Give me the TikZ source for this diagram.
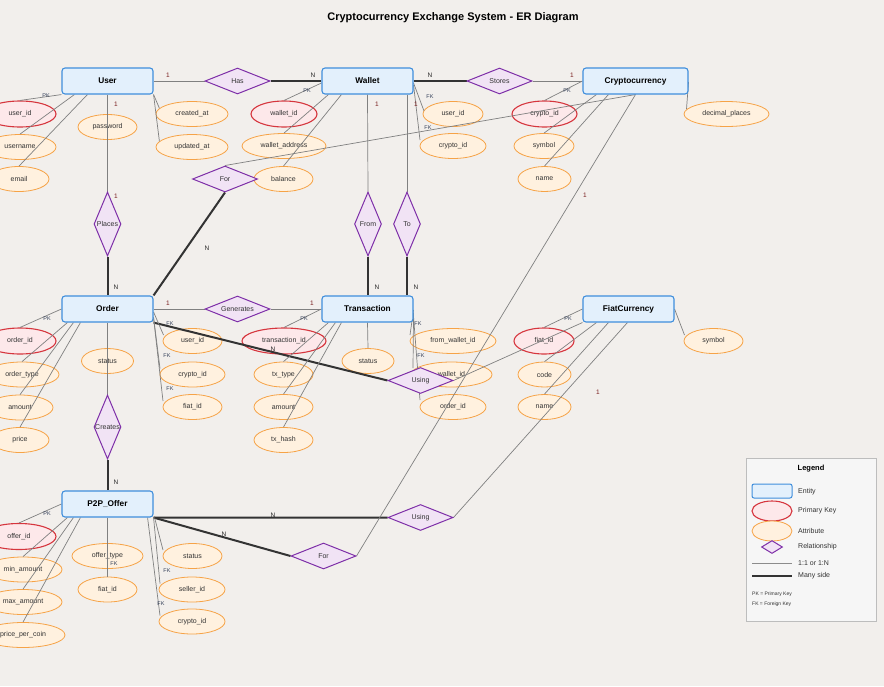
\documentclass[tikz,border=0pt]{standalone}
\usepackage{fontspec}
\setmainfont{Liberation Sans}
\usetikzlibrary{shapes.geometric,calc}
\pgfdeclarelayer{back}\pgfdeclarelayer{ell}\pgfdeclarelayer{lines}
\pgfsetlayers{back,ell,lines,main}
\definecolor{bgc}{HTML}{F2EFEC}
\definecolor{entF}{HTML}{E3F0FC}
\definecolor{entB}{HTML}{3F8EDC}
\definecolor{pkF}{HTML}{FDE8EA}
\definecolor{pkB}{HTML}{D6363E}
\definecolor{attF}{HTML}{FFF1DF}
\definecolor{attB}{HTML}{F6A347}
\definecolor{relF}{HTML}{F1E3F5}
\definecolor{relB}{HTML}{7E2FA8}
\definecolor{lnc}{HTML}{808080}
\definecolor{thk}{HTML}{333333}
\definecolor{txt}{HTML}{333333}
\definecolor{onec}{HTML}{7A1F1F}
\definecolor{keyc}{HTML}{34405A}
\definecolor{legF}{HTML}{F6F6F6}
\definecolor{legB}{HTML}{BDBDBD}
\begin{document}
\begin{tikzpicture}[x=1pt,y=-1pt,
  ent/.style={rectangle, rounded corners=3pt, draw=entB, fill=entF, line width=1.1pt, minimum width=91pt, minimum height=26pt, inner sep=0pt, font=\bfseries\fontsize{8.3}{10}\selectfont},
  attr/.style={ellipse, draw=attB, fill=attF, line width=0.8pt, minimum height=25pt, inner sep=0pt, text=txt, font=\fontsize{7}{8}\selectfont},
  pk/.style={attr, draw=pkB, fill=pkF, line width=1.1pt, minimum height=26pt},
  rel/.style={diamond, draw=relB, fill=relF, line width=1pt, inner sep=0pt, minimum width=65pt, minimum height=26pt},
  vrel/.style={rel, minimum width=27pt, minimum height=64pt},
  thinl/.style={draw=lnc, line width=0.7pt},
  thickl/.style={draw=thk, line width=2pt},
  one/.style={font=\fontsize{6.5}{7}\selectfont, text=onec, inner sep=0pt},
  many/.style={font=\fontsize{6.5}{7}\selectfont, text=black!85, inner sep=0pt},
  keyl/.style={font=\fontsize{5.5}{6}\selectfont, text=keyc, inner sep=0pt},
  every label/.style={font=\fontsize{7}{8}\selectfont, text=txt, inner sep=0pt},
  legt/.style={font=\fontsize{7}{8}\selectfont, text=txt, inner sep=0pt, anchor=west},
]
\begin{pgfonlayer}{back}
\fill[bgc] (0,0) rectangle (884,686);
\end{pgfonlayer}
\useasboundingbox (0,0) rectangle (884,686);

\node[font=\bfseries\fontsize{11}{13}\selectfont, inner sep=0pt] (title) at (453,18) {Cryptocurrency Exchange System - ER Diagram};

% entities
\node[ent] (User) at (107.5,81) {User};
\node[ent] (Wallet) at (367.5,81) {Wallet};
\node[ent, minimum width=105pt] (Crypto) at (635.5,81) {Cryptocurrency};
\node[ent] (Order) at (107.5,309) {Order};
\node[ent] (Trans) at (367.5,309) {Transaction};
\node[ent] (Fiat) at (628.5,309) {FiatCurrency};
\node[ent] (P2P) at (107.5,504) {P2P\_Offer};

% relationships
\node[rel, label=center:Has] (has) at (237.5,81) {};
\node[rel, label=center:Stores] (stores) at (499.5,81) {};
\node[rel, label=center:For] (forT) at (225,179) {};
\node[vrel, label=center:Places] (places) at (107.5,224) {};
\node[vrel, label=center:From] (from) at (368,224) {};
\node[vrel, label=center:To] (to) at (407,224) {};
\node[rel, label=center:Generates] (gen) at (237.5,309) {};
\node[rel, label=center:Using] (usingM) at (420.5,380.5) {};
\node[vrel, label=center:Creates] (creates) at (107.5,427) {};
\node[rel, label=center:Using] (usingB) at (420.5,517.5) {};
\node[rel, label=center:For] (forB) at (323.5,556) {};

\begin{pgfonlayer}{ell}
% User
\node[pk, minimum width=72pt] (u_id) at (20,114) {user\_id};
\node[attr, minimum width=72pt] (u_name) at (20,147) {username};
\node[attr, minimum width=60pt] (u_email) at (19,179) {email};
\node[attr, minimum width=59pt] (u_pw) at (107.5,127) {password};
\node[attr, minimum width=72pt] (u_cr) at (192,114) {created\_at};
\node[attr, minimum width=72pt] (u_up) at (192,147) {updated\_at};
% Wallet
\node[pk, minimum width=66pt] (w_id) at (284,114) {wallet\_id};
\node[attr, minimum width=84pt] (w_addr) at (284,146) {wallet\_address};
\node[attr, minimum width=59pt] (w_bal) at (283.5,179) {balance};
\node[attr, minimum width=60pt] (w_uid) at (453,114) {user\_id};
\node[attr, minimum width=66pt] (w_cid) at (453,146) {crypto\_id};
% Crypto
\node[pk, minimum width=65pt] (c_id) at (544.5,114) {crypto\_id};
\node[attr, minimum width=60pt] (c_sym) at (544,146) {symbol};
\node[attr, minimum width=53pt] (c_name) at (544.5,179) {name};
\node[attr, minimum width=85pt] (c_dec) at (726.5,114) {decimal\_places};
% Order
\node[pk, minimum width=72pt] (o_id) at (20,341) {order\_id};
\node[attr, minimum width=74pt] (o_type) at (22,374.5) {order\_type};
\node[attr, minimum width=66pt] (o_amt) at (20,407.5) {amount};
\node[attr, minimum width=58pt] (o_price) at (20,440) {price};
\node[attr, minimum width=52pt] (o_status) at (107.5,361) {status};
\node[attr, minimum width=59pt] (o_uid) at (192.5,341) {user\_id};
\node[attr, minimum width=65pt] (o_cid) at (192.5,374.5) {crypto\_id};
\node[attr, minimum width=59pt] (o_fid) at (192.5,407) {fiat\_id};
% Transaction
\node[pk, minimum width=84pt] (t_id) at (284,341) {transaction\_id};
\node[attr, minimum width=59pt] (t_type) at (283.5,374.5) {tx\_type};
\node[attr, minimum width=59pt] (t_amt) at (283.5,407) {amount};
\node[attr, minimum width=59pt] (t_hash) at (283.5,440) {tx\_hash};
\node[attr, minimum width=52pt] (t_status) at (368,361) {status};
\node[attr, minimum width=86pt] (t_from) at (453,341) {from\_wallet\_id};
\node[attr, minimum width=81pt] (t_wid) at (451.5,374.5) {wallet\_id};
\node[attr, minimum width=66pt] (t_oid) at (453,407) {order\_id};
% Fiat
\node[pk, minimum width=60pt] (f_id) at (544,341) {fiat\_id};
\node[attr, minimum width=53pt] (f_code) at (544.5,374.5) {code};
\node[attr, minimum width=53pt] (f_name) at (544.5,407) {name};
\node[attr, minimum width=59pt] (f_sym) at (713.5,341) {symbol};
% P2P
\node[pk, minimum width=74pt] (p_id) at (19,536.5) {offer\_id};
\node[attr, minimum width=78pt] (p_min) at (23,569.5) {min\_amount};
\node[attr, minimum width=78pt] (p_max) at (23,602) {max\_amount};
\node[attr, minimum width=84pt] (p_price) at (23,635) {price\_per\_coin};
\node[attr, minimum width=71pt] (p_type) at (107.5,556) {offer\_type};
\node[attr, minimum width=59pt] (p_fid) at (107.5,589.5) {fiat\_id};
\node[attr, minimum width=59pt] (p_status) at (192.5,556) {status};
\node[attr, minimum width=66pt] (p_seller) at (192,589.5) {seller\_id};
\node[attr, minimum width=66pt] (p_cid) at (192,621.5) {crypto\_id};
\end{pgfonlayer}

\begin{pgfonlayer}{lines}
% relationship connectors
\draw[thinl] (User.east) -- (has.west);
\draw[thickl] (has.east) -- (Wallet.west);
\draw[thickl] (Wallet.east) -- (stores.west);
\draw[thinl] (stores.east) -- (Crypto.west);
\draw[thinl] (User.south) -- (places.north);
\draw[thickl] (places.south) -- (Order.north);
\draw[thinl] (Wallet.south) -- (from.north);
\draw[thinl] (to.north |- Wallet.south) -- (to.north);
\draw[thickl] (from.south) -- (from.south |- Trans.north);
\draw[thickl] (to.south) -- (to.south |- Trans.north);
\draw[thinl] (Crypto.south) -- (forT.north);
\draw[thickl] (forT.south) -- (Order.north east);
\draw[thinl] (Order.east) -- (gen.west);
\draw[thinl] (gen.east) -- (Trans.west);
\draw[thickl] (Order.south east) -- (usingM.west);
\draw[thinl] (Fiat.south west) -- (usingM.east);
\draw[thinl] (Order.south) -- (creates.north);
\draw[thickl] (creates.south) -- (P2P.north);
\draw[thickl] (P2P.south east) -- (usingB.west);
\draw[thickl] (P2P.south east) -- (forB.west);
\draw[thinl] ([xshift=45pt]Fiat.south west) -- (usingB.east);
\draw[thinl] (forB.east) -- (Crypto.south);
% User attributes
\draw[thinl] (User.south west) -- (u_id.north);
\draw[thinl] ([xshift=13pt]User.south west) -- (u_name.north);
\draw[thinl] ([xshift=26pt]User.south west) -- (u_email.north);
\draw[thinl] (User.south east) -- (u_cr.170);
\draw[thinl] (User.south east) -- (u_up.170);
% Wallet attributes
\draw[thinl] ([yshift=-2pt]Wallet.west) -- (w_id.north);
\draw[thinl] ([xshift=7pt]Wallet.south west) -- (w_addr.north);
\draw[thinl] ([xshift=20pt]Wallet.south west) -- (w_bal.north);
\draw[thinl] ([yshift=-2pt]Wallet.east) -- ($(w_uid.center)+(-29,-3)$);
\draw[thinl] ([yshift=-4pt]Wallet.east) -- ($(w_cid.center)+(-33,-6)$);
% Crypto attributes
\draw[thinl] (Crypto.west) -- (c_id.north);
\draw[thinl] ([xshift=14pt]Crypto.south west) -- (c_sym.north);
\draw[thinl] ([xshift=26pt]Crypto.south west) -- (c_name.north);
\draw[thinl] ([yshift=-1pt]Crypto.east) -- ($(c_dec.center)+(-40,-5)$);
% Order attributes
\draw[thinl] (Order.west) -- (o_id.north);
\draw[thinl] ([xshift=6pt]Order.south west) -- (o_type.north);
\draw[thinl] ([xshift=12pt]Order.south west) -- (o_amt.north);
\draw[thinl] ([xshift=19pt]Order.south west) -- (o_price.north);
\draw[thinl] ([yshift=-3pt]Order.east) -- ($(o_uid.center)+(-29,-6)$);
\draw[thinl] ([yshift=-8pt]Order.east) -- ($(o_cid.center)+(-32.5,-6)$);
\draw[thinl] ([yshift=-9pt]Order.east) -- ($(o_fid.center)+(-29.5,-6)$);
% Transaction attributes
\draw[thinl] (Trans.west) -- (t_id.north);
\draw[thinl] ([xshift=7pt]Trans.south west) -- (t_type.north);
\draw[thinl] ([xshift=14pt]Trans.south west) -- (t_amt.north);
\draw[thinl] ([xshift=20pt]Trans.south west) -- (t_hash.north);
\draw[thinl] (Trans.south) -- (t_status.north);
\draw[thinl] ([yshift=-1pt]Trans.east) -- ($(t_from.center)+(-43,-6)$);
\draw[thinl] ([yshift=-4pt]Trans.east) -- ($(t_wid.center)+(-38.5,-6.5)$);
\draw[thinl] ([yshift=-8pt]Trans.east) -- ($(t_oid.center)+(-33,-7)$);
% Fiat attributes
\draw[thinl] (Fiat.west) -- (f_id.north);
\draw[thinl] ([xshift=14pt]Fiat.south west) -- (f_code.north);
\draw[thinl] ([xshift=26pt]Fiat.south west) -- (f_name.north);
\draw[thinl] (Fiat.east) -- ($(f_sym.center)+(-29,-6)$);
% P2P attributes
\draw[thinl] (P2P.west) -- (p_id.north);
\draw[thinl] ([xshift=6pt]P2P.south west) -- (p_min.north);
\draw[thinl] ([xshift=12pt]P2P.south west) -- (p_max.north);
\draw[thinl] ([xshift=19pt]P2P.south west) -- (p_price.north);
\draw[thinl] (P2P.south) -- (p_fid.north);
\draw[thinl] ([xshift=1pt]P2P.south east) -- ($(p_status.center)+(-29.5,-6)$);
\draw[thinl] (P2P.south east) -- ($(p_seller.center)+(-32,-6)$);
\draw[thinl] ([xshift=-6pt]P2P.south east) -- ($(p_cid.center)+(-32,-6)$);
\end{pgfonlayer}

% cardinalities
\node[one] (k1) at (168,75) {1};
\node[many] (k2) at (313,75) {N};
\node[many] (k3) at (430,75) {N};
\node[one] (k4) at (572,75) {1};
\node[one] (k5) at (116,104) {1};
\node[one] (k6) at (116,196) {1};
\node[many] (k7) at (116,287) {N};
\node[one] (k8) at (377,104) {1};
\node[one] (k9) at (416,104) {1};
\node[many] (k10) at (377,287) {N};
\node[many] (k11) at (416,287) {N};
\node[many] (k12) at (207,248) {N};
\node[one] (k13) at (585,195) {1};
\node[one] (k14) at (168,303) {1};
\node[one] (k15) at (312,303) {1};
\node[many] (k16) at (273,349) {N};
\node[one] (k17) at (598,392) {1};
\node[many] (k18) at (116,482) {N};
\node[many] (k19) at (273,515) {N};
\node[many] (k20) at (224,534) {N};

% key markers
\node[keyl] (pk1) at (46,96) {PK};
\node[keyl] (pk2) at (307,91) {PK};
\node[keyl] (pk3) at (567,91) {PK};
\node[keyl] (pk4) at (47,319) {PK};
\node[keyl] (pk5) at (304,319) {PK};
\node[keyl] (pk6) at (568,319) {PK};
\node[keyl] (pk7) at (47,514) {PK};
\node[keyl] (fk1) at (430,97) {FK};
\node[keyl] (fk2) at (428,128) {FK};
\node[keyl] (fk3) at (170,324) {FK};
\node[keyl] (fk4) at (167,356) {FK};
\node[keyl] (fk5) at (170,389) {FK};
\node[keyl] (fk6) at (418,324) {FK};
\node[keyl] (fk7) at (421,356) {FK};
\node[keyl] (fk8) at (114,564) {FK};
\node[keyl] (fk9) at (167,571) {FK};
\node[keyl] (fk10) at (161,604) {FK};

% legend
\node[draw=legB, fill=legF, line width=1pt, minimum width=130pt, minimum height=163pt, inner sep=0pt] (leg) at (811,539.5) {};
\node[font=\bfseries\fontsize{7.5}{9}\selectfont, inner sep=0pt] (legtitle) at (811,469) {Legend};
\node[ent, minimum width=40pt, minimum height=14pt, line width=1pt, rounded corners=2pt] (lent) at (772,491) {};
\node[legt] (lentt) at (798,492) {Entity};
\node[pk, minimum width=40pt, minimum height=20pt] (lpk) at (772,511) {};
\node[legt] (lpkt) at (798,511) {Primary Key};
\node[attr, minimum width=40pt, minimum height=20pt] (latt) at (772,531) {};
\node[legt] (lattt) at (798,531) {Attribute};
\node[rel, minimum width=21pt, minimum height=13pt] (lrel) at (772,547) {};
\node[legt] (lrelt) at (798,547) {Relationship};
\coordinate (lt1) at (752,563);
\coordinate (lt2) at (792,563);
\draw[thinl, line width=1pt, draw=black!45] (lt1) -- (lt2);
\node[legt] (lthin) at (798,563) {1:1 or 1:N};
\coordinate (lk1) at (752,576);
\coordinate (lk2) at (792,576);
\draw[thickl] (lk1) -- (lk2);
\node[legt] (lthick) at (798,576) {Many side};
\node[font=\fontsize{5}{6}\selectfont, text=txt, inner sep=0pt, anchor=west] (lnote1) at (752,594) {PK = Primary Key};
\node[font=\fontsize{5}{6}\selectfont, text=txt, inner sep=0pt, anchor=west] (lnote2) at (752,604) {FK = Foreign Key};
\end{tikzpicture}
\end{document}
